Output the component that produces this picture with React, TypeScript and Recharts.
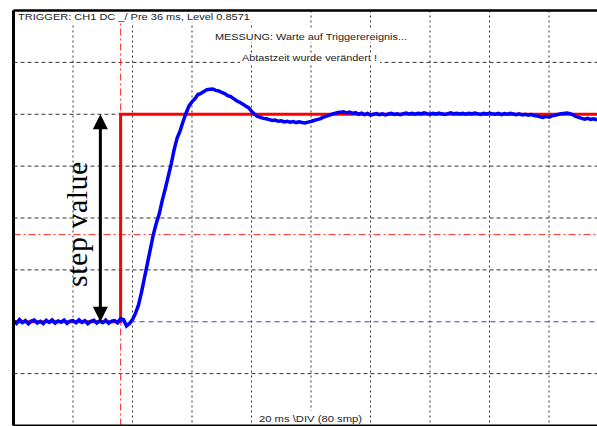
import { LineChart, Line, XAxis, YAxis, CartesianGrid, ReferenceLine, Customized } from 'recharts'

// blue trace, one sample per ms (t = index), level in units of the step
const blueValues = [
  0.005, -0.008, 0.01, -0.004, 0.006, -0.01, 0.003, 0.008, -0.006, 0.002,
  -0.009, 0.007, -0.003, 0.009, -0.007, 0.004, -0.002, 0.008, -0.008, 0.003,
  0.006, -0.005, 0.009, -0.003, 0.005, -0.009, 0.002, 0.007, -0.006, 0.004,
  -0.004, 0.008, -0.007, 0.003, 0.006, -0.005, 0.015, 0.01, -0.02, -0.008,
  0.01, 0.04, 0.08, 0.14, 0.21, 0.28, 0.35, 0.42, 0.475, 0.52,
  0.585, 0.64, 0.7, 0.76, 0.83, 0.885, 0.92, 0.965, 1.005, 1.04,
  1.06, 1.075, 1.095, 1.1, 1.11, 1.118, 1.12, 1.122, 1.115, 1.112,
  1.105, 1.1, 1.09, 1.085, 1.075, 1.065, 1.058, 1.05, 1.04, 1.032,
  1.015, 1.0, 0.99, 0.985, 0.98, 0.978, 0.974, 0.97, 0.972, 0.966,
  0.968, 0.963, 0.966, 0.962, 0.965, 0.96, 0.964, 0.96, 0.958, 0.962,
  0.965, 0.97, 0.974, 0.978, 0.985, 0.99, 0.995, 1.0, 1.004, 1.008,
  1.01, 1.012, 1.006, 1.01, 1.004, 1.008, 1.0, 1.005, 0.998, 1.004,
  0.996, 1.0, 1.003, 0.998, 1.002, 0.997, 1.001, 1.004, 0.999, 1.002,
  0.998, 1.003, 1.006, 1.001, 1.004, 1.0, 1.005, 1.002, 1.007, 1.003,
  1.0, 1.004, 1.001, 1.006, 1.002, 0.999, 1.003, 1.007, 1.002, 1.005,
  1.001, 1.004, 1.0, 1.005, 1.002, 1.006, 1.003, 0.999, 1.004, 1.001,
  1.005, 1.002, 1.0, 1.004, 0.998, 1.003, 1.0, 1.004, 1.001, 0.998,
  1.002, 0.997, 1.0, 0.996, 0.999, 0.994, 0.992, 0.988, 0.985, 0.99,
  0.986, 0.992, 0.995, 0.999, 1.002, 1.004, 1.006, 1.003, 0.998, 0.99,
  0.985, 0.98, 0.976, 0.98, 0.975, 0.978, 0.974, 0.977, 0.975, 0.977,
  0.976,
]
const sampleTimes = blueValues.map((_, i) => i)

// red reference step
const stepTimes = [0, 36, 200]
const stepValues = [0, 1, 1]

const triggerTime = 36
const triggerLevel = 0.42
const triggerLineTop = 1.44 // stops under the trigger text box
const arrowTime = 29.2

const gridTimes = [20, 40, 60, 80, 100, 120, 140, 160, 180]
const gridLevels = [-0.25, 0.25, 0.5, 0.75, 1, 1.25]

const blueData = sampleTimes.map((t, i) => ({ t, v: blueValues[i] }))
const stepData = stepTimes.map((t, i) => ({ t, v: stepValues[i] }))

const scopeFont = '"Liberation Sans", Arial, sans-serif'

const StepArrow = (props: any) => {
  const { x1, y1, y2 } = props
  const top = Math.min(y1, y2)
  const bot = Math.max(y1, y2)
  const head = 15
  const hw = 7.5
  const tx = x1 - 13
  const ty = (top + bot) / 2 + 6
  return (
    <g>
      <line x1={x1} x2={x1} y1={top + head - 1} y2={bot - head + 1} stroke="#000" strokeWidth={3} />
      <polygon points={`${x1},${top} ${x1 - hw},${top + head} ${x1 + hw},${top + head}`} fill="#000" />
      <polygon points={`${x1},${bot} ${x1 - hw},${bot - head} ${x1 + hw},${bot - head}`} fill="#000" />
      <text
        x={tx}
        y={ty}
        transform={`rotate(-90 ${tx} ${ty})`}
        textAnchor="middle"
        fontFamily='"Liberation Serif", "Times New Roman", serif'
        fontSize={30}
        letterSpacing={0.5}
        fill="#000"
      >
        step value
      </text>
    </g>
  )
}

const ScopeTexts = () => (
  <g fontFamily={scopeFont} fill="#222">
    <rect x={15} y={11} width={237} height={11.5} fill="#fff" />
    <text x={18} y={19.5} fontSize={9.5} textLength={232} lengthAdjust="spacingAndGlyphs">
      TRIGGER: CH1 DC _/ Pre 36 ms, Level 0.8571
    </text>
    <rect x={213} y={30} width={197} height={12} fill="#fff" />
    <text x={215} y={40} fontSize={8.5} textLength={192} lengthAdjust="spacingAndGlyphs">
      MESSUNG: Warte auf Triggerereignis...
    </text>
    <rect x={240} y={53} width={140} height={10} fill="#fff" />
    <text x={242} y={61} fontSize={8.5} textLength={135} lengthAdjust="spacingAndGlyphs">
      Abtastzeit wurde verändert !
    </text>
    <rect x={257} y={411} width={108} height={13} fill="#fff" />
    <text x={259} y={421.5} fontSize={9.5} textLength={103} lengthAdjust="spacingAndGlyphs">
      20 ms \DIV (80 smp)
    </text>
  </g>
)

export default function App() {
  return (
    <div style={{ position: 'absolute', left: 0, top: 0, width: 597, height: 426, overflow: 'hidden', background: '#fff' }}>
      <LineChart width={609} height={426} margin={{ top: 10.5, right: 0.5, bottom: 0.5, left: 13.5 }}>
        <XAxis type="number" dataKey="t" domain={[0, 200]} ticks={gridTimes} hide allowDataOverflow />
        <YAxis type="number" dataKey="v" domain={[-0.5, 1.5]} ticks={gridLevels} hide allowDataOverflow />
        <CartesianGrid horizontal={false} stroke="#333" strokeDasharray="2 3" />
        <CartesianGrid vertical={false} stroke="#333" strokeDasharray="4 3" />
        <ReferenceLine
          segment={[{ x: triggerTime, y: -0.5 }, { x: triggerTime, y: triggerLineTop }]}
          stroke="#ff2a2a"
          strokeDasharray="7 3 2 3"
        />
        <ReferenceLine y={triggerLevel} stroke="#ff2a2a" strokeDasharray="7 3 2 3" />
        <ReferenceLine y={0} stroke="#3a3aff" strokeDasharray="5 4" />
        <Customized component={<ScopeTexts />} />
        <Line data={stepData} dataKey="v" type="stepAfter" stroke="#ff0000" strokeWidth={3} dot={false} isAnimationActive={false} />
        <Line data={blueData} dataKey="v" type="linear" stroke="#0000ff" strokeWidth={3.5} dot={false} isAnimationActive={false} />
        <ReferenceLine segment={[{ x: arrowTime, y: 0 }, { x: arrowTime, y: 1 }]} shape={<StepArrow />} />
        <ReferenceLine x={0} stroke="#000" strokeWidth={3} />
        <ReferenceLine y={1.5} stroke="#000" strokeWidth={2.5} />
        <ReferenceLine y={-0.5} stroke="#000" strokeWidth={2} />
      </LineChart>
    </div>
  )
}
